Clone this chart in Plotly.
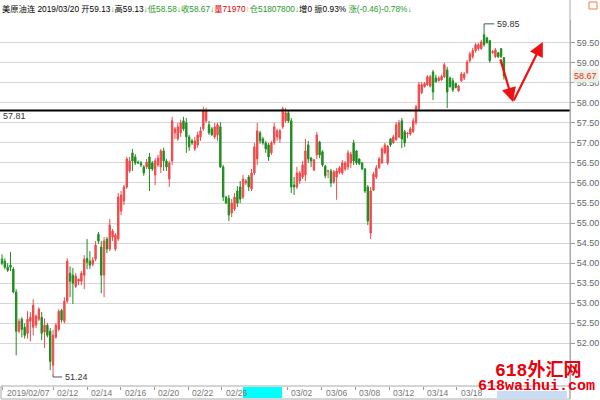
import plotly.graph_objects as go

opens = [54.10,54.05,53.90,53.95,53.85,53.28,52.30,52.60,52.40,52.25,52.55,52.40,52.45,52.60,52.65,52.28,52.45,52.30,51.45,52.15,
52.35,52.82,52.55,53.05,53.75,53.70,53.42,53.55,53.55,53.70,54.12,54.05,53.97,54.10,54.72,54.40,53.70,54.60,54.35,54.65,
54.35,54.60,55.30,55.55,55.90,56.30,56.75,56.65,56.52,56.50,56.40,56.40,56.65,56.50,56.20,56.45,56.40,56.80,56.55,56.10,
56.55,57.25,57.10,57.25,57.55,57.50,57.15,57.05,56.85,56.95,57.15,57.35,57.55,57.45,57.35,57.15,57.20,57.40,56.40,55.65,
55.62,55.25,55.35,55.80,55.90,55.65,56.00,56.15,55.85,56.25,56.60,57.25,57.10,57.00,56.95,56.75,57.00,57.15,57.10,57.40,
57.55,57.75,57.55,55.95,55.90,56.05,56.15,56.20,56.95,56.62,56.32,56.70,57.02,56.78,56.42,56.30,56.30,56.02,56.15,56.27,
56.25,56.35,56.40,56.50,57.00,56.80,56.60,56.50,56.35,55.90,54.75,55.82,56.15,56.38,56.50,56.75,56.50,57.10,57.00,57.08,
57.15,57.55,57.28,57.22,57.22,57.28,57.50,57.85,58.25,58.40,58.45,58.42,58.77,58.62,58.55,58.57,58.65,58.82,58.62,58.55,
58.48,58.30,58.55,58.62,58.75,59.05,59.15,59.30,59.35,59.35,59.70,59.62,59.55,59.25,59.15,59.25,59.35,59.13]
highs = [54.22,54.12,54.00,54.28,53.90,53.35,52.62,52.65,52.50,52.80,52.78,53.10,52.72,52.90,52.78,52.62,52.50,52.38,52.33,52.50,
52.85,52.86,53.15,54.12,53.92,53.88,53.75,53.62,53.80,54.20,54.60,54.30,54.15,54.55,54.78,54.55,54.65,54.65,55.10,54.85,
54.75,55.75,55.80,55.95,56.65,56.65,56.85,56.72,56.56,56.55,56.45,56.60,56.75,56.55,56.62,56.70,56.85,56.88,56.60,56.55,
57.65,57.40,57.50,57.58,57.65,57.62,57.20,57.10,57.15,57.28,57.40,57.90,57.88,57.55,57.40,57.50,57.50,57.52,56.45,55.68,
55.70,55.60,55.75,55.92,56.05,56.20,56.10,56.20,56.35,57.00,57.50,57.30,57.15,57.05,57.00,57.05,57.50,57.35,57.35,57.90,
57.88,57.80,57.62,56.15,56.40,56.30,56.55,57.10,57.05,56.65,56.60,57.27,57.05,56.82,56.45,56.33,56.35,56.32,56.37,56.42,
56.57,56.55,56.82,56.78,57.07,56.82,56.62,56.52,56.37,55.95,55.90,56.27,56.45,56.65,56.90,57.00,56.95,57.12,57.20,57.52,
57.57,57.62,57.32,57.27,57.40,57.62,57.95,58.52,58.52,58.52,58.69,58.70,58.82,58.70,58.66,58.70,59.00,58.90,58.65,58.62,
58.50,58.45,58.77,58.77,59.07,59.27,59.37,59.49,59.49,59.57,59.85,59.65,59.57,59.32,59.37,59.27,59.37,59.13]
lows = [53.95,53.85,53.78,53.80,53.25,51.70,52.25,52.15,52.12,52.12,52.05,52.20,52.38,52.55,52.08,51.88,52.15,51.33,51.24,52.12,
52.30,52.52,52.50,53.00,53.15,52.98,53.38,53.45,53.45,53.35,53.85,53.85,53.92,54.05,54.48,53.25,53.15,54.25,54.30,54.55,
54.30,54.55,55.20,55.45,55.85,56.25,56.30,56.45,56.48,56.40,56.18,56.35,55.80,56.30,55.95,56.40,56.25,56.30,56.30,55.90,
56.45,57.10,57.05,57.15,57.30,56.75,56.80,56.95,56.80,56.88,57.05,57.30,57.50,57.20,57.18,57.10,57.05,56.38,55.55,55.48,
55.05,55.15,55.30,55.40,55.50,55.60,55.95,55.80,55.80,56.20,56.45,56.98,56.95,56.75,56.55,56.70,56.95,57.05,57.00,57.35,
57.50,57.50,55.75,55.70,55.85,55.98,56.10,56.05,56.50,56.40,56.30,56.60,56.62,56.40,56.12,56.12,55.90,55.98,55.58,56.22,
56.20,56.30,56.32,56.37,56.45,56.45,56.45,56.32,55.75,54.95,54.60,55.80,56.10,56.35,56.48,56.72,56.45,56.90,56.98,57.05,
57.12,56.87,56.90,57.12,57.18,57.25,57.45,57.82,58.22,58.38,58.42,58.38,58.07,58.50,58.53,58.55,58.62,57.87,58.38,58.27,
58.36,58.27,58.52,58.57,58.72,59.00,59.10,59.25,59.30,59.32,59.40,59.48,59.00,59.22,59.12,59.12,59.12,58.58]
closes = [54.00,53.90,53.82,53.90,53.28,52.30,52.55,52.35,52.20,52.60,52.65,52.95,52.68,52.85,52.25,52.45,52.20,51.55,52.20,52.45,
52.80,52.58,53.05,54.05,53.55,53.50,53.68,53.60,53.75,54.10,54.02,53.95,54.08,54.45,54.55,53.70,54.55,54.35,54.95,54.80,
54.70,55.65,55.70,55.90,56.60,56.55,56.55,56.50,56.50,56.45,56.25,56.52,56.35,56.35,56.55,56.62,56.80,56.55,56.40,56.50,
57.55,57.35,57.40,57.50,57.35,57.15,56.90,57.00,57.05,57.20,57.30,57.80,57.80,57.25,57.20,57.40,57.45,56.40,55.65,55.50,
55.20,55.50,55.65,55.50,55.60,56.10,56.05,55.90,56.25,56.90,57.30,57.05,57.00,56.85,56.65,57.00,57.40,57.30,57.30,57.85,
57.75,57.55,55.90,55.90,56.25,56.25,56.45,56.80,56.60,56.55,56.58,57.20,56.70,56.45,56.18,56.30,56.00,56.28,56.30,56.38,
56.50,56.50,56.75,56.72,56.55,56.50,56.48,56.35,55.80,55.05,55.80,56.22,56.38,56.60,56.85,56.95,56.92,56.95,57.15,57.45,
57.50,57.10,57.00,57.24,57.35,57.55,57.90,58.45,58.45,58.48,58.65,58.65,58.27,58.53,58.62,58.66,58.95,58.27,58.40,58.32,
58.38,58.42,58.72,58.72,59.02,59.22,59.30,59.45,59.45,59.52,59.45,59.50,59.05,59.28,59.32,59.15,59.15,58.67]

price_ticks = [52.00,52.50,53.00,53.50,54.00,54.50,55.00,55.50,56.00,56.50,57.00,57.50,58.00,58.50,59.00,59.50]
date_ticks = [0.25,18.1,30.1,41.9,53.6,65.6,77.5,100.6,112.8,124.5,136.6,148.6,160.4]
date_labels = ["2019/02/07","02/12","02/14","02/16","02/20","02/22","02/26","03/02","03/06","03/08","03/12","03/14","03/18"]
support_level = 57.81
last_close = 58.67
high_mark = (170, 59.85)
low_mark = (18, 51.24)

assert len(opens) == len(highs) == len(lows) == len(closes)
idx = list(range(len(closes)))

fig = go.Figure(go.Candlestick(
    x=idx, open=opens, high=highs, low=lows, close=closes,
    increasing=dict(line=dict(color='#f04a4a', width=1), fillcolor='#f04a4a'),
    decreasing=dict(line=dict(color='#1f8c1f', width=1), fillcolor='#1f8c1f'),
    whiskerwidth=0, hoverinfo='skip'))

def px_x(p):
    return p / 570.0
def px_y(p):
    return (386.0 - p) / 366.0

shapes = [
    dict(type='line', xref='paper', yref='y', x0=0, x1=1, y0=support_level, y1=support_level,
         line=dict(color='#000000', width=2)),
    dict(type='rect', xref='paper', yref='paper', x0=px_x(1), x1=1, y0=px_y(386), y1=px_y(399),
         line=dict(color='#aaaaaa', width=1), fillcolor='rgba(0,0,0,0)'),
    dict(type='rect', xref='paper', yref='paper', x0=px_x(243), x1=px_x(282), y0=px_y(387), y1=px_y(398),
         line=dict(width=0), fillcolor='#00ffff'),
    dict(type='rect', xref='paper', yref='paper', x0=px_x(497), x1=px_x(567), y0=px_y(391), y1=px_y(399),
         line=dict(width=0), fillcolor='#c9dcf2'),
    dict(type='line', xref='paper', yref='paper', x0=1, x1=1, y0=px_y(399), y1=px_y(0),
         line=dict(color='#aaaaaa', width=1)),
    dict(type='rect', xref='paper', yref='paper', x0=px_x(589), x1=px_x(597), y0=px_y(9), y1=px_y(2),
         line=dict(color='#f08040', width=1), fillcolor='rgba(0,0,0,0)'),
    dict(type='path', xref='x', yref='y',
         path=f'M{high_mark[0]} {high_mark[1]} L{high_mark[0]} {high_mark[1]+0.12} L{high_mark[0]+3.6} {high_mark[1]+0.12}',
         line=dict(color='#555555', width=1)),
    dict(type='path', xref='x', yref='y',
         path=f'M{low_mark[0]} {low_mark[1]} L{low_mark[0]} {low_mark[1]-0.08} L{low_mark[0]+3.2} {low_mark[1]-0.08}',
         line=dict(color='#555555', width=1)),
]

header = ('美原油连 2019/03/20 开59.13<span style="color:#2a9a2a">↓</span>高59.13<span style="color:#2a9a2a">↓</span>'
          '<span style="color:#2a9a2a">低58.58↓收58.67↓</span><span style="color:#e00000">量71970</span>'
          '<span style="color:#f08080">↑</span><span style="color:#2a9a2a">仓51807800↓</span>增0 振0.93% '
          '<span style="color:#2a9a2a">涨(-0.46)-0.78%↓</span>')

annotations = [
    dict(xref='paper', yref='paper', x=0, y=px_y(9), xanchor='left', yanchor='middle', text=header,
         showarrow=False, font=dict(family='Liberation Sans, Noto Sans CJK SC', size=8.3, color='#000000')),
    dict(xref='paper', yref='y', x=0, y=support_level, xanchor='left', yanchor='top', yshift=1, xshift=1,
         text=f'{support_level:.2f}', showarrow=False, font=dict(family='Liberation Sans', size=9, color='#333333')),
    dict(xref='x', yref='y', x=high_mark[0] + 3.6, y=high_mark[1] + 0.12, xanchor='left', yanchor='middle', xshift=1,
         text=f'{high_mark[1]:.2f}', showarrow=False, font=dict(family='Liberation Sans', size=9, color='#333333')),
    dict(xref='x', yref='y', x=low_mark[0] + 3.2, y=low_mark[1] - 0.08, xanchor='left', yanchor='middle', xshift=1,
         text=f'{low_mark[1]:.2f}', showarrow=False, font=dict(family='Liberation Sans', size=9, color='#333333')),
    dict(xref='paper', yref='y', x=1, y=last_close, xanchor='left', yanchor='middle', xshift=2,
         text=f'{last_close:.2f}', showarrow=False, bgcolor='#e4f3e4', borderpad=1,
         font=dict(family='Liberation Sans', size=9, color='#ff2020')),
]
for t, lab in zip(date_ticks, date_labels):
    annotations.append(dict(xref='x', yref='paper', x=t, y=px_y(392.5), xanchor='left', yanchor='middle', xshift=2,
                            text=lab, showarrow=False, font=dict(family='Liberation Sans', size=8.5, color='#777777')))

# red arrows
annotations += [
    dict(xref='x', yref='y', axref='x', ayref='y', x=180.2, y=58.02, ax=175.6, ay=59.12, text='', showarrow=True,
         arrowhead=2, arrowsize=1.3, arrowwidth=2.2, arrowcolor='#ee1111'),
    dict(xref='x', yref='y', axref='x', ayref='y', x=190.7, y=59.52, ax=180.2, ay=58.02, text='', showarrow=True,
         arrowhead=2, arrowsize=1.3, arrowwidth=2.2, arrowcolor='#ee1111'),
]
# watermark
annotations += [
    dict(xref='paper', yref='paper', x=px_x(538), y=px_y(370), xanchor='center', yanchor='middle', text='<b>618外汇网</b>',
         showarrow=False, font=dict(family='Liberation Mono, Noto Sans CJK SC', size=18, color='#e8000b')),
    dict(xref='paper', yref='paper', x=px_x(536), y=px_y(387), xanchor='center', yanchor='middle', text='<b>618waihui.com</b>',
         showarrow=False, font=dict(family='Liberation Mono', size=15, color='#e8000b')),
]

fig.update_layout(
    width=600, height=400, margin=dict(l=0, r=30, t=20, b=14),
    paper_bgcolor='white', plot_bgcolor='white', showlegend=False,
    shapes=shapes, annotations=annotations,
    xaxis=dict(range=[-0.705, 200.3], showgrid=False, zeroline=False, rangeslider=dict(visible=False),
               tickvals=date_ticks, ticks='outside', ticklen=3, tickcolor='#999999', showticklabels=False,
               showline=False, fixedrange=True),
    yaxis=dict(side='right', range=[50.935, 60.066], tickvals=price_ticks, tickformat='.2f',
               showgrid=True, gridcolor='#d6d6d6', gridwidth=1, zeroline=False,
               ticks='outside', ticklen=4, tickcolor='#999999', showline=True, linecolor='#aaaaaa',
               tickfont=dict(family='Liberation Sans', size=9, color='#666666'), fixedrange=True),
)

fig.write_html('out.html', config={'displayModeBar': False},
               post_script="document.body.style.margin='0';document.body.style.overflow='hidden';")
